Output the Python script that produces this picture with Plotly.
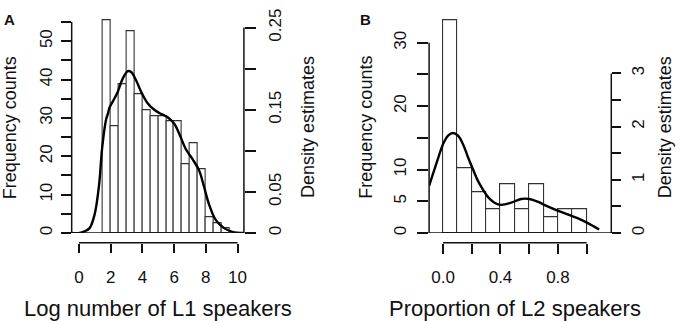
import plotly.graph_objects as go

# ---------------- data ----------------
# Panel A: histogram of log number of L1 speakers (bins of width 0.5 from 1.5 to 9.5)
a_bin_left = [1.5, 2.0, 2.5, 3.0, 3.5, 4.0, 4.5, 5.0, 5.5, 6.0, 6.5, 7.0, 7.5, 8.0, 8.5, 9.0]
a_counts = [55.4, 27.8, 38.8, 52.6, 36.1, 32.0, 30.5, 30.5, 29.2, 29.2, 17.9, 23.5, 16.6, 4.1, 2.6, 1.3]
a_bin_width = 0.5
# Panel A density curve
a_dens_x = [-0.46, 0.04, 0.35, 0.67, 0.98, 1.26, 1.47, 1.72, 1.82, 1.93, 2.13, 2.45, 2.76, 3.08, 3.29,
            3.60, 3.92, 4.33, 4.75, 5.17, 5.59, 6.01, 6.32, 6.74, 7.16, 7.58, 7.89, 8.20, 8.62, 9.15,
            9.67, 10.4]
a_dens_y = [0.0, 0.0, 0.002, 0.006, 0.022, 0.057, 0.105, 0.139, 0.145, 0.153, 0.160, 0.172, 0.188,
            0.197, 0.196, 0.186, 0.172, 0.158, 0.150, 0.145, 0.141, 0.133, 0.121, 0.102, 0.090, 0.076,
            0.056, 0.035, 0.016, 0.006, 0.0015, 0.0]
a_xticks = [0, 2, 4, 6, 8, 10]
a_yticks = [0, 5, 10, 15, 20, 25, 30, 35, 40, 45, 50, 55]
a_ylabels = ["0", "", "10", "", "20", "", "30", "", "40", "", "50", ""]
a_y2ticks = [0, 0.05, 0.10, 0.15, 0.20, 0.25]
a_y2labels = ["0", "0.05", "", "0.15", "", "0.25"]

# Panel B: histogram of proportion of L2 speakers (bins of width 0.1 from 0 to 1)
b_bin_left = [0.0, 0.1, 0.2, 0.3, 0.4, 0.5, 0.6, 0.7, 0.8, 0.9]
b_counts = [33.5, 10.3, 6.45, 3.8, 7.7, 3.8, 7.7, 2.55, 3.8, 3.8]
b_bin_width = 0.1
b_dens_x = [-0.097, -0.069, -0.035, 0.0, 0.035, 0.069, 0.104, 0.139, 0.173, 0.208, 0.243, 0.277,
            0.312, 0.358, 0.405, 0.474, 0.543, 0.601, 0.659, 0.728, 0.798, 0.867, 0.936, 1.005, 1.087]
b_dens_y = [0.884, 1.12, 1.40, 1.67, 1.83, 1.88, 1.83, 1.67, 1.43, 1.20, 0.98, 0.82, 0.68, 0.57, 0.53,
            0.57, 0.64, 0.64, 0.59, 0.50, 0.42, 0.35, 0.28, 0.19, 0.067]
b_xticks = [0.0, 0.2, 0.4, 0.6, 0.8, 1.0]
b_xlabels = ["0.0", "", "0.4", "", "0.8", ""]
b_yticks = [0, 5, 10, 15, 20, 25, 30]
b_ylabels = ["0", "5", "10", "", "20", "", "30"]
b_y2ticks = [0, 0.5, 1.0, 1.5, 2.0, 2.5, 3.0]
b_y2labels = ["0", "", "1", "", "2", "", "3"]

# ---------------- layout helpers ----------------
W, H = 680, 321
def px(x):
    return x / W
def py(y):
    return 1 - y / H

FONT = "Liberation Sans, Arial, sans-serif"
INK = "#111111"
AXW = 1.5

fig = go.Figure()

# Panel A
fig.add_trace(go.Bar(x=[l + a_bin_width / 2 for l in a_bin_left], y=a_counts, width=a_bin_width,
                     marker=dict(color="white", line=dict(color="#333333", width=1.1)),
                     xaxis="x", yaxis="y", showlegend=False, hoverinfo="skip"))
fig.add_trace(go.Scatter(x=a_dens_x, y=a_dens_y, mode="lines", line=dict(color="black", width=2.4, shape="spline"),
                         xaxis="x", yaxis="y2", showlegend=False, hoverinfo="skip"))
# Panel B
fig.add_trace(go.Bar(x=[l + b_bin_width / 2 for l in b_bin_left], y=b_counts, width=b_bin_width,
                     marker=dict(color="white", line=dict(color="#333333", width=1.1)),
                     xaxis="x2", yaxis="y3", showlegend=False, hoverinfo="skip"))
fig.add_trace(go.Scatter(x=b_dens_x, y=b_dens_y, mode="lines", line=dict(color="black", width=2.4, shape="spline"),
                         xaxis="x2", yaxis="y4", showlegend=False, hoverinfo="skip"))

ydom = [py(232), py(9.5)]
xpos = py(242)
tickfont = dict(family=FONT, size=17, color=INK)

common_ax = dict(showgrid=False, zeroline=False, showline=False, ticks="outside",
                 tickwidth=AXW, tickcolor=INK, tickfont=tickfont, fixedrange=True)

fig.update_layout(
    width=W, height=H, margin=dict(l=0, r=0, t=0, b=0),
    paper_bgcolor="white", plot_bgcolor="white", bargap=0,
    xaxis=dict(domain=[px(72), px(245)], range=[-0.458, 10.40], anchor="free", position=xpos,
               tickvals=a_xticks, ticklen=9, ticklabelstandoff=10, **common_ax),
    yaxis=dict(domain=ydom, range=[0, 56.0], anchor="x", side="left",
               tickvals=a_yticks, ticktext=a_ylabels, ticklen=10, tickangle=-90, ticklabelstandoff=2, **common_ax),
    yaxis2=dict(domain=ydom, range=[0, 0.2615], anchor="x", overlaying="y", side="right",
                tickvals=a_y2ticks, ticktext=a_y2labels, ticklen=11, tickangle=-90, ticklabelstandoff=5, **common_ax),
    xaxis2=dict(domain=[px(431), px(614)], range=[-0.0970, 1.1712], anchor="free", position=xpos,
                tickvals=b_xticks, ticktext=b_xlabels, ticklen=10, ticklabelstandoff=9, **common_ax),
    yaxis3=dict(domain=ydom, range=[0, 33.88], anchor="x2", side="left",
                tickvals=b_yticks, ticktext=b_ylabels, ticklen=11, tickangle=-90, ticklabelstandoff=4, **common_ax),
    yaxis4=dict(domain=ydom, range=[0, 4.038], anchor="x2", overlaying="y3", side="right",
                tickvals=b_y2ticks, ticktext=b_y2labels, ticklen=9, tickangle=-90, ticklabelstandoff=2, **common_ax),
)

line_style = dict(color=INK, width=AXW)
shapes = [
    # Panel A axis lines (R style, spanning tick range only)
    dict(type="line", xref="x", yref="paper", x0=a_xticks[0], x1=a_xticks[-1], y0=xpos, y1=xpos, line=line_style),
    dict(type="line", xref="x domain", yref="y", x0=0, x1=0, y0=a_yticks[0], y1=a_yticks[-1], line=line_style),
    dict(type="line", xref="x domain", yref="y2", x0=1, x1=1, y0=a_y2ticks[0], y1=a_y2ticks[-1], line=line_style),
    dict(type="line", xref="x domain", yref="y", x0=0, x1=1, y0=0, y1=0, line=line_style),
    # Panel B axis lines
    dict(type="line", xref="x2", yref="paper", x0=b_xticks[0], x1=b_xticks[-1], y0=xpos, y1=xpos, line=line_style),
    dict(type="line", xref="x2 domain", yref="y3", x0=0, x1=0, y0=b_yticks[0], y1=b_yticks[-1], line=line_style),
    dict(type="line", xref="x2 domain", yref="y4", x0=1, x1=1, y0=b_y2ticks[0], y1=b_y2ticks[-1], line=line_style),
    dict(type="line", xref="x2 domain", yref="y3", x0=0, x1=1, y0=0, y1=0, line=line_style),
]
fig.update_layout(shapes=shapes)

def ann(text, x, y, size, angle=0, bold=False):
    return dict(text=("<b>%s</b>" % text) if bold else text, x=px(x), y=py(y), xref="paper", yref="paper",
                showarrow=False, textangle=angle, xanchor="center", yanchor="middle",
                font=dict(family=FONT, size=size, color=INK))

fig.update_layout(annotations=[
    ann("A", 9.5, 11, 15, bold=True),
    ann("B", 366.7, 11, 15, bold=True),
    ann("Frequency counts", 10, 122.5, 18, angle=-90),
    ann("Density estimates", 310, 122.5, 18, angle=-90),
    ann("Log number of L1 speakers", 159, 310.5, 22),
    ann("Frequency counts", 368, 122.5, 18, angle=-90),
    ann("Density estimates", 668, 122.5, 18, angle=-90),
    ann("Proportion of L2 speakers", 517, 310.5, 22),
])

fig.write_html("out.html", config={"displayModeBar": False},
               post_script="document.body.style.margin='0';document.body.style.padding='0';"
                           "document.body.style.overflow='hidden';")
